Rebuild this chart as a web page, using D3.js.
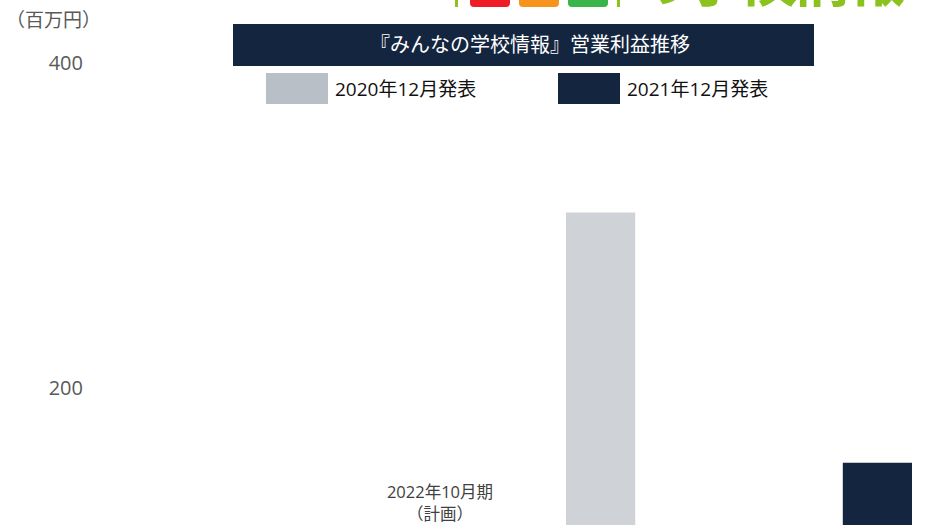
<!doctype html>
<html>
<head>
<meta charset="UTF-8">
<title>みんなの学校情報 営業利益推移</title>
<script src="https://cdn.jsdelivr.net/npm/d3@7"></script>
<style>
  body { margin: 0; background: #fff; }
  svg text { font-family: "Open Sans", "Noto Sans CJK JP", sans-serif; }
</style>
</head>
<body>
<svg id="chart" width="936" height="525"></svg>
<script>
// data
var title = "『みんなの学校情報』営業利益推移";
var unitLabel = "（百万円）";
var category = ["2022年10月期", "（計画）"];
var series = ["2020年12月発表", "2021年12月発表"];
var values = [308, 154];
var yTicks = [200, 400];
var colors = ["#cfd3d8", "#13253f"];
var legendColors = ["#b9bfc7", "#13253f"];

var svg = d3.select("#chart");

// scales (zero lies below the visible area, chart is cut off)
var y = d3.scaleLinear().domain([0, 400]).range([713, 63]);
var x = d3.scaleBand().domain(series).range([566, 912]).paddingInner(0.75).paddingOuter(0);

// logo, cut off at top
var logo = svg.append("g");
logo.append("rect").attr("x", 455).attr("y", -20).attr("width", 3).attr("height", 27).attr("fill", "#8cc21e");
["#ee1c25", "#f7941d", "#39b54a"].forEach(function(c, i){
    logo.append("rect").attr("x", 470 + i*49).attr("y", -40)
        .attr("width", 40).attr("height", 47).attr("rx", 4).attr("fill", c);
});
logo.append("rect").attr("x", 617).attr("y", -20).attr("width", 3).attr("height", 27).attr("fill", "#8cc21e");
logo.append("text").attr("x", 630).attr("y", 1)
    .attr("font-size", 60).attr("font-weight", "bold").attr("fill", "#8cc21e")
    .attr("textLength", 275).text("の学校情報");

// unit label
svg.append("text").attr("x", 6).attr("y", 27).attr("font-size", 19).attr("fill", "#595959")
    .text(unitLabel);

// y axis labels
var yAxis = d3.axisLeft(y).tickValues(yTicks).tickSize(0).tickPadding(0);
var gy = svg.append("g").attr("transform", "translate(83,0)").call(yAxis);
gy.select(".domain").remove();
gy.selectAll("text").attr("font-size", 20).attr("fill", "#595959")
    .attr("font-family", "'Open Sans', 'Noto Sans', sans-serif");

// bars
svg.selectAll("rect.bar").data(values).enter().append("rect")
    .attr("class", "bar")
    .attr("x", function(d, i){ return x(series[i]); })
    .attr("y", function(d){ return y(d); })
    .attr("width", x.bandwidth())
    .attr("height", function(d){ return y(0) - y(d); })
    .attr("fill", function(d, i){ return colors[i]; });

// category label
var cat = svg.append("text").attr("text-anchor", "middle").attr("font-size", 16.5).attr("fill", "#404040");
category.forEach(function(t, i){
    cat.append("tspan").attr("x", 440).attr("y", 498 + i*22).text(t);
});

// title band
svg.append("rect").attr("x", 233).attr("y", 24).attr("width", 581).attr("height", 42).attr("fill", "#13253f");
svg.append("text").attr("x", 530).attr("y", 52).attr("text-anchor", "middle")
    .attr("font-size", 20).attr("fill", "#fff").text(title);

// legend
var legendX = [266, 558];
series.forEach(function(s, i){
    svg.append("rect").attr("x", legendX[i]).attr("y", 73).attr("width", 62).attr("height", 31)
        .attr("fill", legendColors[i]);
    svg.append("text").attr("x", legendX[i] + 69).attr("y", 96).attr("font-size", 19)
        .attr("fill", "#111").text(s);
});
</script>
</body>
</html>
